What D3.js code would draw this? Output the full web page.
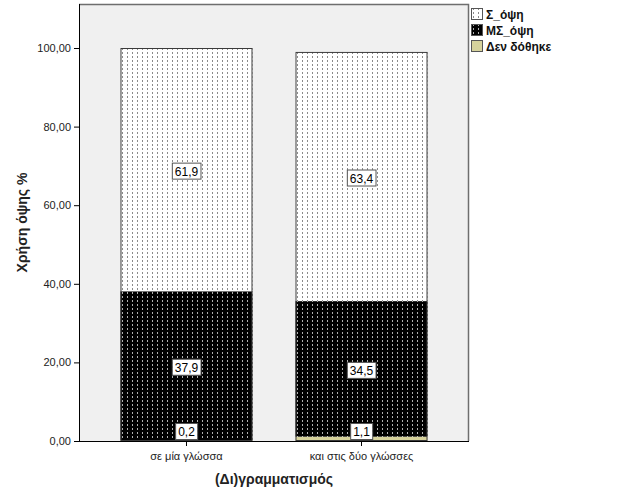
<!DOCTYPE html>
<html><head><meta charset="utf-8">
<script src="https://cdn.jsdelivr.net/npm/d3@7"></script>
<style>body{margin:0;background:#fff}svg{display:block;font-family:Arial,"Liberation Sans",sans-serif}</style>
</head><body><svg id="c" width="626" height="501"></svg>
<script>
const categories = ["σε μία γλώσσα", "και στις δύο γλώσσες"];
const seriesNames = ["Δεν δόθηκε", "ΜΣ_όψη", "Σ_όψη"];
const notGiven = [0.2, 1.1];
const msOpsi = [37.9, 34.5];
const sOpsi = [61.9, 63.4];
const yTicks = [0, 20, 40, 60, 80, 100];
const legendOrder = ["Σ_όψη", "ΜΣ_όψη", "Δεν δόθηκε"];

const svg = d3.select("#c");
const defs = svg.append("defs");
function dashPat(id, bg, fg) {
  const p = defs.append("pattern").attr("id", id).attr("patternUnits", "userSpaceOnUse")
    .attr("width", 5).attr("height", 4);
  p.append("rect").attr("width", 5).attr("height", 4).attr("fill", bg);
  p.append("rect").attr("x", 2).attr("y", 0).attr("width", 1).attr("height", 2).attr("fill", fg);
}
dashPat("pS", "#ffffff", "#8a8a8a");
dashPat("pMS", "#000000", "#b0b0b0");
const fills = {"Σ_όψη": "url(#pS)", "ΜΣ_όψη": "url(#pMS)", "Δεν δόθηκε": "#d6d29c"};

const L = 79, R = 469, T = 4, B = 441;
const y = d3.scaleLinear().domain([0, 100]).range([441, 48]);
const x = d3.scaleBand().domain(categories).range([L, R]).paddingInner(0.2457).paddingOuter(0.237);

svg.append("rect").attr("x", L).attr("y", T).attr("width", R - L).attr("height", B - T).attr("fill", "#f0f0f0");

const rows = categories.map((c, i) => ({cat: c, "Δεν δόθηκε": notGiven[i], "ΜΣ_όψη": msOpsi[i], "Σ_όψη": sOpsi[i]}));
const stack = d3.stack().keys(seriesNames)(rows);

const g = svg.append("g");
stack.forEach(s => {
  g.selectAll(null).data(s).join("rect")
    .attr("x", d => x(d.data.cat)).attr("width", x.bandwidth())
    .attr("y", d => y(d[1])).attr("height", d => y(d[0]) - y(d[1]))
    .attr("fill", fills[s.key]);
});
// bar outlines
rows.forEach((r, i) => {
  const tot = notGiven[i] + msOpsi[i] + sOpsi[i];
  g.append("rect").attr("x", x(r.cat) + 0.5).attr("y", y(tot) + 0.5)
    .attr("width", x.bandwidth() - 1).attr("height", y(0) - y(tot) - 1)
    .attr("fill", "none").attr("stroke", "#3a3a3a").attr("stroke-width", 1);
});

// labels
stack.forEach(s => {
  s.forEach(d => {
    const v = d[1] - d[0];
    let cy = y((d[0] + d[1]) / 2) + 2;
    cy = Math.min(cy, y(0) - 9);
    const cx = x(d.data.cat) + x.bandwidth() / 2;
    const txt = d3.format(".1f")(v).replace(".", ",");
    const lg = g.append("g");
    const t = lg.append("text").attr("x", cx).attr("y", cy + 4).attr("text-anchor", "middle")
      .attr("font-size", 12).attr("fill", "#000").text(txt);
    const bb = t.node().getBBox();
    lg.insert("rect", "text").attr("x", bb.x - 2.5).attr("y", cy - 8.5).attr("width", bb.width + 5).attr("height", 16)
      .attr("fill", "#fff").attr("stroke", "#555").attr("stroke-width", 1);
  });
});

// frame
svg.append("path").attr("d", `M${L},${T+0.5}H${R-0.5}V${B}`).attr("fill", "none").attr("stroke", "#6e6e6e").attr("stroke-width", 1.5);

// axes
const ya = svg.append("g").attr("transform", `translate(${L},0)`)
  .call(d3.axisLeft(y).tickValues(yTicks).tickSize(5).tickFormat(d => d3.format(".2f")(d).replace(".", ",")));
ya.select(".domain").attr("d", `M0.5,${T}V${B}`).attr("stroke", "#000");
ya.selectAll("text").attr("font-size", 11).attr("fill", "#222").attr("font-family", "Arial,'Liberation Sans',sans-serif");
const xa = svg.append("g").attr("transform", `translate(0,${B})`)
  .call(d3.axisBottom(x).tickSize(5).tickPadding(6));
xa.select(".domain").attr("d", `M${L},0.5H${R}`).attr("stroke", "#000");
xa.selectAll("text").attr("font-size", 11).attr("fill", "#222").attr("font-family", "Arial,'Liberation Sans',sans-serif");

svg.append("text").attr("x", (L + R) / 2).attr("y", 484).attr("text-anchor", "middle")
  .attr("font-size", 14).attr("font-weight", "bold").attr("fill", "#222").text("(Δι)γραμματισμός");
svg.append("text").attr("transform", `translate(27,${(T + B) / 2}) rotate(-90)`).attr("text-anchor", "middle")
  .attr("font-size", 14).attr("font-weight", "bold").attr("fill", "#222").text("Χρήση όψης %");

// legend
const leg = svg.append("g").attr("transform", "translate(471,8)");
legendOrder.forEach((k, i) => {
  const row = leg.append("g").attr("transform", `translate(0,${i * 16})`);
  row.append("rect").attr("x", 0.5).attr("y", 0.5).attr("width", 11).attr("height", 11)
    .attr("fill", fills[k]).attr("stroke", "#555");
  row.append("text").attr("x", 15).attr("y", 10.5).attr("font-size", 12).attr("font-weight", "bold")
    .attr("fill", "#111").text(k);
});
</script></body></html>
